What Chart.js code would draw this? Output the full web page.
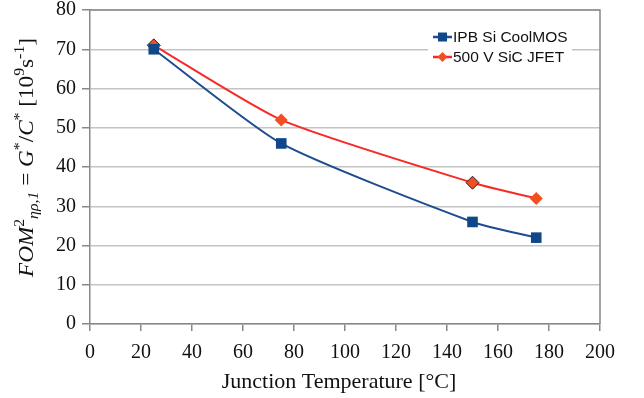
<!DOCTYPE html>
<html>
<head>
<meta charset="utf-8">
<script src="https://cdn.jsdelivr.net/npm/chart.js@4"></script>
<style>
  html, body { margin: 0; padding: 0; background: #fff; }
  #wrap { width: 644px; height: 398px; }
</style>
</head>
<body>
<div id="wrap"><canvas id="chart" width="644" height="398"></canvas></div>
<script>
// values
const temps = [25, 75, 150, 175];
const coolmos = [70, 46, 26, 22];
const jfet = [71, 52, 36, 32];
const seriesNames = ['IPB Si CoolMOS', '500 V SiC JFET'];
const xTitle = 'Junction Temperature [°C]';

const serif = "'Liberation Serif', 'DejaVu Serif', serif";
const sans = "'Liberation Sans', Arial, sans-serif";
Chart.defaults.font.family = serif;
Chart.defaults.color = '#111';

// y title with sub/superscripts, pieces in reading order
const yTitle = [
  { t: 'FOM', it: true },
  { t: '2', sup: true },
  { t: 'ηρ,1', it: true, sub: true },
  { t: ' = ' },
  { t: 'G', it: true },
  { t: '*', sup: true },
  { t: '/' },
  { t: 'C', it: true },
  { t: '*', sup: true },
  { t: ' [10' },
  { t: '9', sup: true },
  { t: 's' },
  { t: '-1', sup: true },
  { t: ']' }
];

function pieceFont(p) {
  const size = (p.sup || p.sub) ? 15 : 22;
  return (p.it ? 'italic ' : '') + size + 'px ' + serif;
}

const extras = {
  id: 'extras',
  afterDraw(chart) {
    const ctx = chart.ctx;
    const area = chart.chartArea;

    // frame lines top and right
    ctx.save();
    ctx.strokeStyle = '#888';
    ctx.lineWidth = 1.5;
    ctx.beginPath();
    ctx.moveTo(area.left, area.top);
    ctx.lineTo(area.right, area.top);
    ctx.lineTo(area.right, area.bottom);
    ctx.stroke();
    ctx.restore();

    // y axis title, runs from y=277 up to y=38
    ctx.save();
    let total = 0;
    yTitle.forEach(p => {
      ctx.font = pieceFont(p);
      total += ctx.measureText(p.t).width;
    });
    ctx.translate(33, 277);
    ctx.rotate(-Math.PI / 2);
    ctx.scale(239 / total, 1);
    ctx.fillStyle = '#111';
    ctx.textBaseline = 'alphabetic';
    let x = 0;
    yTitle.forEach(p => {
      ctx.font = pieceFont(p);
      const dy = p.sup ? -9 : (p.sub ? 5 : 0);
      ctx.fillText(p.t, x, dy);
      x += ctx.measureText(p.t).width;
    });
    ctx.restore();

    // x axis title
    ctx.save();
    ctx.font = '22px ' + serif;
    ctx.fillStyle = '#111';
    ctx.textAlign = 'center';
    ctx.textBaseline = 'alphabetic';
    ctx.fillText(xTitle, 339, 388);
    ctx.restore();

    // legend box inside plot
    ctx.save();
    ctx.fillStyle = '#fff';
    ctx.fillRect(428, 27, 144, 42);
    ctx.font = '15.5px ' + sans;
    ctx.textBaseline = 'middle';
    chart.data.datasets.forEach((ds, i) => {
      const y = 37 + i * 20;
      ctx.strokeStyle = ds.borderColor;
      ctx.lineWidth = 2.5;
      ctx.beginPath();
      ctx.moveTo(433, y);
      ctx.lineTo(452, y);
      ctx.stroke();
      ctx.fillStyle = ds.backgroundColor;
      ctx.beginPath();
      if (i === 0) {
        ctx.rect(438, y - 4.5, 9, 9);
      } else {
        ctx.moveTo(442.5, y - 5);
        ctx.lineTo(447.5, y);
        ctx.lineTo(442.5, y + 5);
        ctx.lineTo(437.5, y);
        ctx.closePath();
      }
      ctx.fill();
      ctx.fillStyle = '#111';
      ctx.fillText(ds.label, 453, y + 1);
    });
    ctx.restore();
  }
};

new Chart(document.getElementById('chart'), {
  type: 'line',
  data: {
    datasets: [
      {
        label: seriesNames[0],
        data: temps.map((t, i) => ({ x: t, y: coolmos[i] })),
        borderColor: '#1d4d8e',
        backgroundColor: '#104789',
        borderWidth: 2,
        pointStyle: 'rect',
        pointRadius: 7.5,
        pointBorderWidth: 0,
        tension: 0.2
      },
      {
        label: seriesNames[1],
        data: temps.map((t, i) => ({ x: t, y: jfet[i] })),
        borderColor: '#f72a26',
        backgroundColor: '#f24e21',
        borderWidth: 2,
        pointStyle: 'rectRot',
        pointRadius: 6.5,
        pointBorderWidth: [1, 0, 1, 0],
        pointBorderColor: '#222',
        tension: 0.2
      }
    ]
  },
  options: {
    responsive: false,
    animation: false,
    layout: { padding: { top: 0, right: 44, left: 0, bottom: 0 } },
    plugins: {
      legend: { display: false },
      tooltip: { enabled: false }
    },
    scales: {
      x: {
        type: 'linear',
        min: 0,
        max: 200,
        ticks: { stepSize: 20, font: { size: 20 }, padding: 10, maxRotation: 0 },
        grid: { drawOnChartArea: false, drawTicks: true, tickLength: 7, color: '#888', lineWidth: 1.5 },
        border: { color: '#888', width: 1.5 },
        afterFit: s => { s.height = 74; }
      },
      y: {
        min: 0,
        max: 80,
        ticks: { stepSize: 10, font: { size: 20, lineHeight: 0.4 }, padding: 6 },
        grid: { color: '#c4c4c4', lineWidth: 1.5, tickColor: '#888', tickLength: 8 },
        border: { color: '#888', width: 1.5 },
        afterFit: s => { s.width = 90; }
      }
    }
  },
  plugins: [extras]
});
</script>
</body>
</html>
